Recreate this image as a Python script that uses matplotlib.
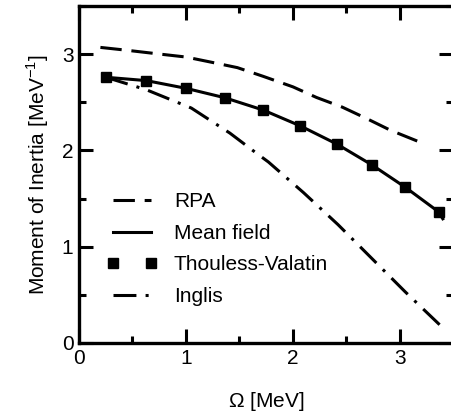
import matplotlib
matplotlib.use('Agg')
import matplotlib.pyplot as plt
from matplotlib.ticker import MultipleLocator

plt.rcParams['font.family'] = ['Liberation Sans', 'DejaVu Sans']
plt.rcParams['mathtext.fontset'] = 'custom'
plt.rcParams['mathtext.rm'] = 'Liberation Sans'

# ── Data ───────────────────────────────────────────────────────────────────
omega_mf = [0.25, 0.63, 1.00, 1.36, 1.72, 2.07, 2.41, 2.74, 3.05, 3.36, 3.40]
inertia_mf = [2.76, 2.725, 2.645, 2.548, 2.42, 2.254, 2.066, 1.848, 1.617, 1.363, 1.29]

omega_tv = [0.25, 0.63, 1.00, 1.36, 1.72, 2.07, 2.41, 2.74, 3.05, 3.36]
inertia_tv = [2.76, 2.725, 2.645, 2.548, 2.42, 2.254, 2.066, 1.848, 1.617, 1.363]

omega_rpa = [0.20, 0.45, 0.76, 1.00, 1.22, 1.48, 1.72, 2.00, 2.22, 2.46, 2.69, 2.91, 3.20]
inertia_rpa = [3.07, 3.04, 3.00, 2.97, 2.92, 2.86, 2.77, 2.66, 2.55, 2.45, 2.33, 2.21, 2.08]

omega_inglis = [0.25, 0.63, 1.05, 1.41, 1.66, 1.77, 2.10, 2.42, 2.735, 3.05, 3.37]
inertia_inglis = [2.76, 2.63, 2.44, 2.18, 1.97, 1.88, 1.56, 1.23, 0.88, 0.53, 0.19]

FS = 15

fig = plt.figure(figsize=(4.52, 4.20), dpi=100)
ax = fig.add_axes([79 / 452, 77 / 420, 374.5 / 452, 337 / 420])

lw = 2.2
ax.plot(omega_rpa, inertia_rpa, color='black', lw=lw, dashes=(7, 3.2), label='RPA')
ax.plot(omega_mf, inertia_mf, color='black', lw=lw, label='Mean field')
ax.plot(omega_tv, inertia_tv, ls='none', marker='s', ms=7.5, color='black',
        label='Thouless-Valatin')
ax.plot(omega_inglis, inertia_inglis, color='black', lw=lw,
        dashes=(7.5, 3, 1, 3), label='Inglis')

ax.set_xlim(0, 3.5)
ax.set_ylim(0, 3.5)
ax.xaxis.set_major_locator(MultipleLocator(1))
ax.xaxis.set_minor_locator(MultipleLocator(0.5))
ax.yaxis.set_major_locator(MultipleLocator(1))
ax.yaxis.set_minor_locator(MultipleLocator(0.5))
ax.tick_params(which='both', direction='in', top=True, right=True,
               width=2.2, labelsize=FS, pad=4)
ax.tick_params(which='major', length=10)
ax.tick_params(which='minor', length=5)
for s in ax.spines.values():
    s.set_linewidth(2.4)

ax.set_xlabel(r'$\Omega$ [MeV]', fontsize=FS, labelpad=16)
ax.set_ylabel(r'Moment of Inertia [MeV$^{-1}$]', fontsize=FS, labelpad=8)

ax.legend(loc='upper left', bbox_to_anchor=(0.075, 0.447), frameon=False,
          fontsize=FS, numpoints=2, handlelength=2.4, handletextpad=0.8,
          labelspacing=0.6, borderpad=0, borderaxespad=0)

plt.savefig('out.png', dpi=100)
